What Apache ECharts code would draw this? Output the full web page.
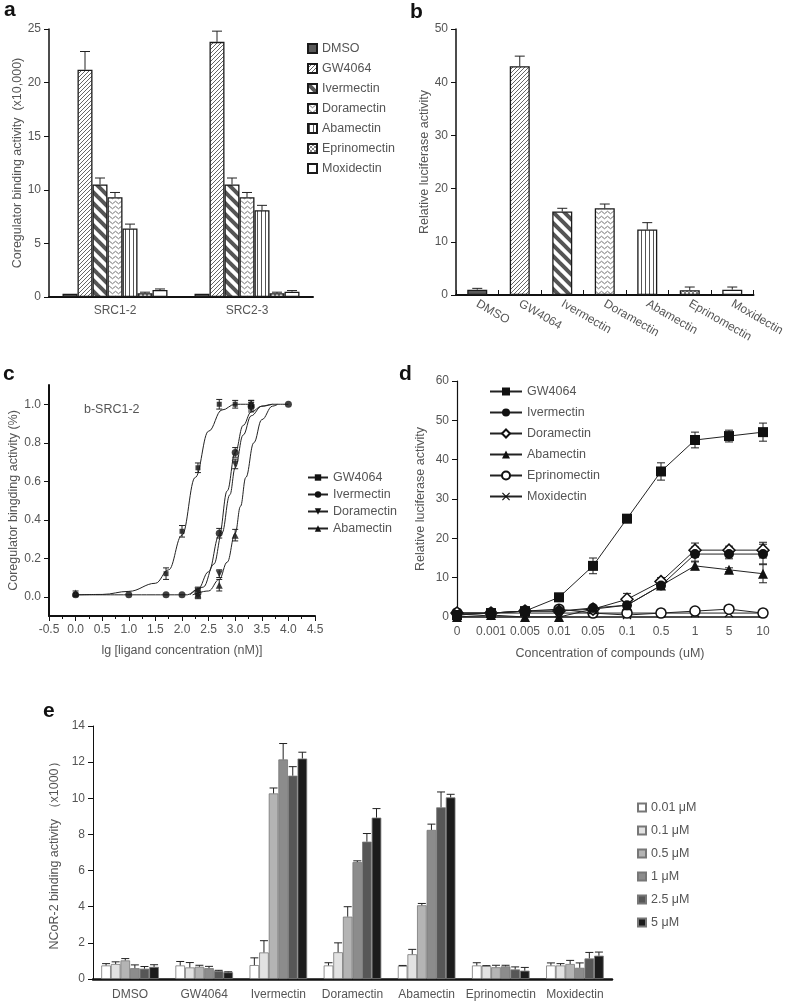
<!DOCTYPE html>
<html>
<head>
<meta charset="utf-8">
<script src="https://cdn.jsdelivr.net/npm/echarts@6/dist/echarts.min.js"></script>
<style>
  html, body { margin: 0; padding: 0; background: #fff; }
  #main { width: 787px; height: 1004px; }
</style>
</head>
<body>
<div id="main"></div>
<script>
// ---- data ----
const compounds = ['DMSO', 'GW4064', 'Ivermectin', 'Doramectin', 'Abamectin', 'Eprinomectin', 'Moxidectin']

// a: coregulator binding (x10,000), per compound: [SRC1-2, SRC2-3]
const aCats = ['SRC1-2', 'SRC2-3']
const aMeans = [[0.3, 0.3], [21.2, 23.8], [10.5, 10.5], [9.3, 9.3], [6.4, 8.1], [0.35, 0.35], [0.65, 0.5]]
const aErrs = [[0, 0], [1.7, 1.0], [0.6, 0.6], [0.45, 0.45], [0.4, 0.45], [0.1, 0.1], [0.1, 0.1]]

// b: relative luciferase activity
const bMeans = [1.0, 43, 15.7, 16.3, 12.3, 0.9, 1.0]
const bErrs = [0.25, 1.9, 0.6, 0.8, 1.3, 0.6, 0.5]

// c: lg concentration vs binding, points [x, y, err]
const cNames = ['GW4064', 'Ivermectin', 'Doramectin', 'Abamectin']
const cPtsGW = [[0, 0.01, 0], [1.7, 0.12, 0.03], [2.0, 0.34, 0.03], [2.3, 0.67, 0.025], [2.7, 1.0, 0.025], [3.0, 1.0, 0.02], [3.3, 1.0, 0.02]]
const cPtsIver = [[0, 0.01, 0], [1.0, 0.01, 0], [1.7, 0.01, 0], [2.0, 0.01, 0], [2.3, 0.02, 0.02], [2.7, 0.33, 0.025], [3.0, 0.75, 0.025], [3.3, 0.99, 0.02], [4.0, 1.0, 0]]
const cPtsDora = [[2.3, 0.03, 0.02], [2.7, 0.12, 0.02], [3.0, 0.69, 0.025], [3.3, 0.98, 0.02]]
const cPtsAba = [[0, 0.02, 0.01], [2.3, 0.01, 0.02], [2.7, 0.06, 0.03], [3.0, 0.32, 0.03], [3.3, 1.0, 0.02]]
// fitted curves
const cFitGW = [[0, 0.01], [0.5, 0.012], [1.0, 0.028], [1.5, 0.07], [1.75, 0.14], [2.0, 0.32], [2.25, 0.62], [2.5, 0.86], [2.75, 0.97], [3.0, 1.0], [3.3, 1.0]]
const cFitIver = [[0, 0.01], [2.1, 0.01], [2.3, 0.04], [2.5, 0.13], [2.7, 0.32], [2.85, 0.55], [3.0, 0.75], [3.15, 0.89], [3.3, 0.96], [3.5, 0.99], [3.7, 1.0], [4.0, 1.0]]
const cFitDora = [[2.15, 0.01], [2.4, 0.05], [2.6, 0.17], [2.75, 0.33], [2.9, 0.53], [3.0, 0.67], [3.15, 0.84], [3.3, 0.94], [3.5, 0.99], [3.7, 1.0]]
const cFitAba = [[2.2, 0.01], [2.5, 0.03], [2.7, 0.09], [2.85, 0.18], [3.0, 0.33], [3.1, 0.47], [3.2, 0.62], [3.35, 0.8], [3.5, 0.92], [3.7, 0.99], [3.8, 1.0]]

// d: dose response (uM)
const dCats = ['0', '0.001', '0.005', '0.01', '0.05', '0.1', '0.5', '1', '5', '10']
const dNames = ['GW4064', 'Ivermectin', 'Doramectin', 'Abamectin', 'Eprinomectin', 'Moxidectin']
const dGW = [0.5, 1.0, 1.5, 5, 13, 25, 37, 45, 46, 47]
const dGWErr = [0, 0, 0, 1, 2, 1, 2.2, 2, 1.5, 2.3]
const dIver = [0.5, 1.0, 1.5, 1.5, 2.3, 3, 8, 16, 16, 16]
const dIverErr = [0, 0, 0, 0, 0.5, 0.5, 0.8, 1.8, 1.2, 2.5]
const dDora = [1, 1, 1.5, 1.5, 2, 4.5, 9, 17, 17, 17]
const dDoraErr = [0, 0, 0, 0, 0.5, 1.5, 1, 1.8, 1, 2]
const dAba = [0, 0.5, 0, 0, 2, 3, 8, 13, 12, 11]
const dAbaErr = [0, 0, 0, 0, 0.5, 0.5, 0.8, 1, 0.5, 2.3]
const dEpri = [1, 1, 1.5, 2, 1, 1, 1, 1.5, 2, 1]
const dMoxi = [1, 1, 1, 1, 1, 0.5, 1, 1, 1, 1]

// e: NCoR-2 binding (x1000), one array per dose over compounds
const eDoses = ['0.01 μM', '0.1 μM', '0.5 μM', '1 μM', '2.5 μM', '5 μM']
const eMeans = [
    [0.75, 0.75, 0.77, 0.75, 0.72, 0.75, 0.75],
    [0.83, 0.64, 1.47, 1.48, 1.37, 0.72, 0.75],
    [1.03, 0.68, 10.27, 3.45, 4.08, 0.65, 0.83],
    [0.6, 0.6, 12.15, 6.47, 8.25, 0.7, 0.62],
    [0.57, 0.45, 11.25, 7.6, 9.5, 0.53, 1.14],
    [0.67, 0.37, 12.2, 8.93, 10.05, 0.46, 1.29]
]
const eErrs = [
    [0.1, 0.22, 0.4, 0.15, 0.03, 0.15, 0.14],
    [0.12, 0.27, 0.65, 0.52, 0.27, 0.02, 0.1],
    [0.1, 0.08, 0.3, 0.55, 0.1, 0.11, 0.2],
    [0.18, 0.1, 0.88, 0.07, 0.32, 0.06, 0.27],
    [0.12, 0.03, 0.5, 0.45, 0.85, 0.14, 0.33],
    [0.12, 0.03, 0.35, 0.5, 0.17, 0.18, 0.2]
]

// ---- styles ----
const FONT = 'Liberation Sans, Arial, sans-serif'
const GREY = '#555'

function tile(w, h, draw) {
    const c = document.createElement('canvas')
    c.width = w; c.height = h
    const ctx = c.getContext('2d')
    ctx.fillStyle = '#fff'
    ctx.fillRect(0, 0, w, h)
    draw(ctx)
    return { image: c, repeat: 'repeat' }
}
const fills = [
    '#5a5a5a',
    tile(4, 4, ctx => { // fine /
        ctx.strokeStyle = '#555'; ctx.lineWidth = 0.9
        for (const k of [-4, 0, 4]) { ctx.beginPath(); ctx.moveTo(k - 1, 5); ctx.lineTo(k + 5, -1); ctx.stroke() }
    }),
    tile(11, 11, ctx => { // thick \
        ctx.strokeStyle = '#555'; ctx.lineWidth = 4
        for (const k of [-11, 0, 11]) { ctx.beginPath(); ctx.moveTo(k - 2, -2); ctx.lineTo(k + 13, 13); ctx.stroke() }
    }),
    tile(6, 5, ctx => { // waves
        ctx.strokeStyle = '#666'; ctx.lineWidth = 0.9
        ctx.beginPath(); ctx.moveTo(0, 2.5); ctx.quadraticCurveTo(1.5, 0, 3, 2.5); ctx.quadraticCurveTo(4.5, 5, 6, 2.5); ctx.stroke()
    }),
    tile(4, 4, ctx => { // vertical lines
        ctx.strokeStyle = '#555'; ctx.lineWidth = 1
        ctx.beginPath(); ctx.moveTo(1.5, 0); ctx.lineTo(1.5, 4); ctx.stroke()
    }),
    tile(4, 4, ctx => { // small checks
        ctx.fillStyle = '#888'
        ctx.fillRect(0, 0, 2, 2); ctx.fillRect(2, 2, 2, 2)
    }),
    '#fff'
]
const eColors = ['#ffffff', '#e2e2e2', '#b4b4b4', '#8c8c8c', '#575757', '#1c1c1c']

// error bars through the axes
function errBars(xi, yi, data, offset, cap, both) {
    return {
        type: 'custom', xAxisIndex: xi, yAxisIndex: yi, data: data, silent: true, z: 5,
        renderItem: function (params, api) {
            const x = api.value(0), v = api.value(1), e = api.value(2)
            if (!e) return
            const mid = api.coord([x, v])
            const top = api.coord([x, v + e])
            const bot = both ? api.coord([x, v - e]) : mid
            const cx = mid[0] + offset
            const st = { stroke: '#222', lineWidth: 1 }
            const kids = [
                { type: 'line', shape: { x1: cx, y1: top[1], x2: cx, y2: bot[1] }, style: st },
                { type: 'line', shape: { x1: cx - cap, y1: top[1], x2: cx + cap, y2: top[1] }, style: st }
            ]
            if (both) kids.push({ type: 'line', shape: { x1: cx - cap, y1: bot[1], x2: cx + cap, y2: bot[1] }, style: st })
            return { type: 'group', children: kids }
        }
    }
}

const series = []

// a
compounds.forEach((n, i) => {
    series.push({
        type: 'bar', name: n + '|a', xAxisIndex: 0, yAxisIndex: 0, data: aMeans[i],
        barWidth: 15, barGap: '0%',
        itemStyle: { color: fills[i], borderColor: '#1a1a1a', borderWidth: 1.3 }
    })
})
compounds.forEach((n, i) => {
    series.push(errBars(0, 0, aMeans[i].map((v, k) => [k, v, aErrs[i][k]]), (i - 3) * 15, 5, false))
})

// b
series.push({
    type: 'bar', name: 'b', xAxisIndex: 1, yAxisIndex: 1, barWidth: 20,
    data: bMeans.map((v, i) => ({ value: v, itemStyle: { color: fills[i] } })),
    itemStyle: { borderColor: '#1a1a1a', borderWidth: 1.3 }
})
series.push(errBars(1, 1, bMeans.map((v, i) => [i, v, bErrs[i]]), 0, 5, false))

// c
const cSyms = ['rect', 'circle', 'triangle', 'triangle']
const cRot = [0, 0, 180, 0]
const cPts = [cPtsGW, cPtsIver, cPtsDora, cPtsAba]
const cFits = [cFitGW, cFitIver, cFitDora, cFitAba]
cNames.forEach((n, i) => {
    series.push({
        type: 'line', name: n + '|c', xAxisIndex: 2, yAxisIndex: 2, data: cFits[i],
        smooth: 0.4, smoothMonotone: 'x', showSymbol: false, symbol: cSyms[i], symbolRotate: cRot[i], symbolSize: 8,
        lineStyle: { color: '#222', width: 1 }, itemStyle: { color: '#111' }, z: 3
    })
})
cNames.forEach((n, i) => {
    series.push({
        type: 'scatter', name: n + '|c', xAxisIndex: 2, yAxisIndex: 2, data: cPts[i].map(p => [p[0], p[1]]),
        symbol: cSyms[i], symbolRotate: cRot[i], symbolSize: i === 0 ? 5 : 7, itemStyle: { color: '#111' }, z: 4
    })
    series.push(errBars(2, 2, cPts[i], 0, 3, true))
})

// d
const dData = [dGW, dIver, dDora, dAba, dEpri, dMoxi]
const dErrs = [dGWErr, dIverErr, dDoraErr, dAbaErr, null, null]
const dSym = ['rect', 'circle', 'diamond', 'triangle', 'circle',
    'path://M0,1L1,0L5,4L9,0L10,1L6,5L10,9L9,10L5,6L1,10L0,9L4,5Z']
const dFill = ['#111', '#111', '#fff', '#111', '#fff', '#111']
const dSize = [10, 10, 12, 10, 10, 9]
dNames.forEach((n, i) => {
    series.push({
        type: 'line', name: n + '|d', xAxisIndex: 3, yAxisIndex: 3, data: dData[i],
        symbol: dSym[i], symbolSize: dSize[i], showAllSymbol: true,
        lineStyle: { color: '#222', width: 1 },
        itemStyle: { color: dFill[i], borderColor: '#111', borderWidth: dFill[i] === '#fff' ? 1.5 : 0 },
        z: 10 - i
    })
    if (dErrs[i]) series.push(errBars(3, 3, dData[i].map((v, k) => [k, v, dErrs[i][k]]), 0, 4, true))
})

// e
eDoses.forEach((n, i) => {
    series.push({
        type: 'bar', name: n, xAxisIndex: 4, yAxisIndex: 4, data: eMeans[i],
        barWidth: 9.6, barGap: '0%',
        itemStyle: { color: eColors[i], borderColor: '#777', borderWidth: 0.8 }
    })
})
eDoses.forEach((n, i) => {
    series.push(errBars(4, 4, eMeans[i].map((v, k) => [k, v, eErrs[i][k]]), (i - 2.5) * 9.6, 4, false))
})

const axLabel = { color: GREY, fontSize: 12, fontFamily: FONT }
const nameSt = { color: GREY, fontSize: 12.5, fontFamily: FONT }
const blackLine = w => ({ show: true, onZero: false, lineStyle: { color: '#111', width: w } })
const stripSuffix = name => name.split('|')[0]

const option = {
    animation: false,
    backgroundColor: '#fff',
    textStyle: { fontFamily: FONT },
    grid: [
        { left: 49, top: 29, width: 264, height: 268 },
        { left: 456, top: 29, width: 305, height: 266 },
        { left: 49, top: 385, width: 266, height: 231 },
        { left: 457, top: 381, width: 306, height: 236 },
        { left: 93, top: 726, width: 519, height: 253 }
    ],
    xAxis: [
        { gridIndex: 0, type: 'category', data: aCats, axisLine: blackLine(2), axisTick: { show: false },
          axisLabel: Object.assign({ margin: 8 }, axLabel) },
        { gridIndex: 1, type: 'category', data: compounds, axisLine: blackLine(2),
          axisTick: { show: true, inside: true, length: 5, lineStyle: { color: '#111' } },
          axisLabel: Object.assign({ rotate: -30, margin: 8, interval: 0, fontSize: 12.5 }, axLabel) },
        { gridIndex: 2, type: 'value', min: -0.5, max: 4.5, interval: 0.5, axisLine: blackLine(2),
          axisTick: { show: true, length: 5, lineStyle: { color: '#111' } },
          minorTick: { show: true, splitNumber: 2, length: 3, lineStyle: { color: '#111' } },
          splitLine: { show: false },
          axisLabel: Object.assign({ margin: 8, formatter: v => v.toFixed(1) }, axLabel),
          name: 'lg [ligand concentration (nM)]', nameLocation: 'middle', nameGap: 28, nameTextStyle: nameSt },
        { gridIndex: 3, type: 'category', data: dCats, boundaryGap: false, axisLine: blackLine(1.5),
          axisTick: { show: false },
          axisLabel: Object.assign({ margin: 9, interval: 0 }, axLabel),
          name: 'Concentration of compounds (uM)', nameLocation: 'middle', nameGap: 30, nameTextStyle: nameSt },
        { gridIndex: 4, type: 'category', data: compounds, axisLine: blackLine(2.5), axisTick: { show: false },
          axisLabel: Object.assign({ margin: 10, interval: 0 }, axLabel) }
    ],
    yAxis: [
        { gridIndex: 0, type: 'value', min: 0, max: 25, interval: 5, axisLine: blackLine(1.5),
          axisTick: { show: true, length: 5, lineStyle: { color: '#111' } }, splitLine: { show: false },
          axisLabel: axLabel,
          name: 'Coregulator binding activity  (x10,000)', nameLocation: 'middle', nameGap: 24, nameTextStyle: nameSt },
        { gridIndex: 1, type: 'value', min: 0, max: 50, interval: 10, axisLine: blackLine(1.5),
          axisTick: { show: true, length: 5, lineStyle: { color: '#111' } }, splitLine: { show: false },
          axisLabel: axLabel,
          name: 'Relative luciferase activity', nameLocation: 'middle', nameGap: 22, nameTextStyle: nameSt },
        { gridIndex: 2, type: 'value', min: -0.1, max: 1.1, axisLine: blackLine(2),
          axisTick: { show: true, length: 5, lineStyle: { color: '#111' }, customValues: [0, 0.2, 0.4, 0.6, 0.8, 1.0] },
          splitLine: { show: false },
          axisLabel: Object.assign({ customValues: [0, 0.2, 0.4, 0.6, 0.8, 1.0], formatter: v => v.toFixed(1) }, axLabel),
          name: 'Coregulator bingding activity (%)', nameLocation: 'middle', nameGap: 29, nameTextStyle: nameSt },
        { gridIndex: 3, type: 'value', min: 0, max: 60, interval: 10, axisLine: blackLine(1.2),
          axisTick: { show: true, length: 5, lineStyle: { color: '#111' } }, splitLine: { show: false },
          axisLabel: axLabel,
          name: 'Relative luciferase activity', nameLocation: 'middle', nameGap: 30, nameTextStyle: nameSt },
        { gridIndex: 4, type: 'value', min: 0, max: 14, interval: 2, axisLine: blackLine(1),
          axisTick: { show: true, length: 5, lineStyle: { color: '#111' } }, splitLine: { show: false },
          axisLabel: axLabel,
          name: 'NCoR-2 binding activity （x1000）', nameLocation: 'middle', nameGap: 30, nameTextStyle: nameSt }
    ],
    legend: [
        { data: compounds.map(n => ({ name: n + '|a', icon: 'rect' })), formatter: stripSuffix, orient: 'vertical', left: 302, top: 37,
          itemWidth: 9, itemHeight: 9, itemGap: 7, selectedMode: false,
          textStyle: { color: GREY, fontSize: 12.5, fontFamily: FONT } },
        { data: cNames.map(n => n + '|c'), formatter: stripSuffix, orient: 'vertical', left: 302, top: 466,
          itemWidth: 20, itemHeight: 8, itemGap: 4, selectedMode: false,
          textStyle: { color: GREY, fontSize: 12.5, fontFamily: FONT } },
        { data: dNames.map(n => n + '|d'), formatter: stripSuffix, orient: 'vertical', left: 484, top: 380,
          itemWidth: 32, itemHeight: 10, itemGap: 8, selectedMode: false,
          textStyle: { color: GREY, fontSize: 12.5, fontFamily: FONT } },
        { data: eDoses.map(n => ({ name: n, icon: 'rect' })), orient: 'vertical', left: 632, top: 796,
          itemWidth: 8, itemHeight: 8, itemGap: 10, selectedMode: false,
          textStyle: { color: GREY, fontSize: 12.5, fontFamily: FONT } }
    ],
    graphic: [
        { type: 'text', x: 4, y: 21, style: { text: 'a', font: 'bold 21px ' + FONT, fill: '#111', verticalAlign: 'bottom' } },
        { type: 'text', x: 410, y: 23, style: { text: 'b', font: 'bold 21px ' + FONT, fill: '#111', verticalAlign: 'bottom' } },
        { type: 'text', x: 3, y: 385, style: { text: 'c', font: 'bold 21px ' + FONT, fill: '#111', verticalAlign: 'bottom' } },
        { type: 'text', x: 399, y: 385, style: { text: 'd', font: 'bold 21px ' + FONT, fill: '#111', verticalAlign: 'bottom' } },
        { type: 'text', x: 43, y: 722, style: { text: 'e', font: 'bold 21px ' + FONT, fill: '#111', verticalAlign: 'bottom' } },
        { type: 'text', x: 84, y: 410, style: { text: 'b-SRC1-2', font: '12.5px ' + FONT, fill: GREY, verticalAlign: 'middle' } }
    ],
    series: series
}

const chart = echarts.init(document.getElementById('main'), null, { renderer: 'canvas' })
chart.setOption(option)
</script>
</body>
</html>
